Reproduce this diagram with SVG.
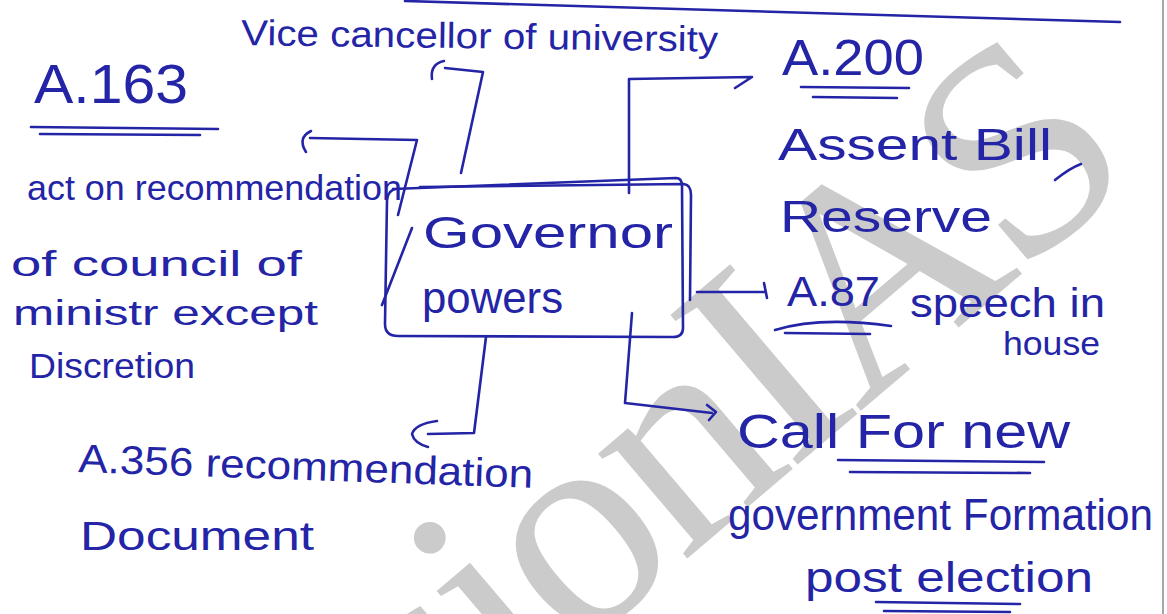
<svg xmlns="http://www.w3.org/2000/svg" width="1167" height="614" viewBox="0 0 1167 614">
  <style>
    .ink { fill: #2424a6; font-family: "Liberation Sans", "DejaVu Sans", sans-serif; }
    .ln { fill: none; stroke: #2424a6; stroke-width: 2.6; stroke-linecap: round; stroke-linejoin: round; }
    .wm { fill: #cbcbcb; font-family: "Liberation Serif", "DejaVu Serif", serif; }
  </style>
  <rect width="1167" height="614" fill="#ffffff"/>

  <!-- faint diagonal watermark behind the notes -->
  <g id="watermark">
    <text class="wm" font-size="300" letter-spacing="-9" transform="translate(272,912) rotate(-40.4)">visionIAS</text>
  </g>

  <!-- page rule along the top and the paper edge on the right -->
  <g id="page">
    <path class="ln" d="M405 1 Q760 10 1120 22"/>
    <line x1="1163" y1="0" x2="1163" y2="614" stroke="#8a8a8a" stroke-width="1.5"/>
  </g>

  <!-- central box -->
  <g id="governor">
    <path class="ln" d="M393 189 C500 185 600 181 676 178 Q682 178 682 186 L683 328 Q683 337 673 337 L398 336 Q385 336 385 324 L387 200 Q388 190 396 189"/>
    <path class="ln" d="M420 187 L684 184 Q691 185 691 195 L690 300"/>
    <path class="ln" d="M412 228 L382 305"/>
    <text class="ink" x="423" y="248" font-size="44" textLength="250" lengthAdjust="spacingAndGlyphs">Governor</text>
    <text class="ink" x="422" y="313" font-size="44" textLength="141" lengthAdjust="spacingAndGlyphs">powers</text>
  </g>

  <g id="connectors">
    <!-- to vice chancellor -->
    <path class="ln" d="M461 173 L483 72 L445 68"/>
    <path class="ln" d="M444 61 Q430 64 432 79"/>
    <!-- to A.163 -->
    <path class="ln" d="M398 215 L417 140 L310 138"/>
    <path class="ln" d="M311 131 Q297 138 306 152"/>
    <!-- to A.200 -->
    <path class="ln" d="M629 193 L629 79 L752 77 L735 88"/>
    <!-- to A.87 -->
    <path class="ln" d="M697 292 L765 292"/>
    <path class="ln" d="M764 283 L767 298"/>
    <!-- to government formation -->
    <path class="ln" d="M632 313 L625 403 L712 413"/>
    <path class="ln" d="M707 405 L716 412 L709 420"/>
    <!-- to A.356 -->
    <path class="ln" d="M486 337 L474 433 L428 434"/>
    <path class="ln" d="M437 421 Q415 424 412 434 Q414 443 428 447"/>
  </g>

  <g id="vice-chancellor">
    <text class="ink" x="241" y="45" font-size="36" textLength="477" lengthAdjust="spacingAndGlyphs" transform="rotate(0.8 241 45)">Vice cancellor of university</text>
  </g>

  <g id="a163">
    <text class="ink" x="34" y="103" font-size="55" textLength="154" lengthAdjust="spacingAndGlyphs">A.163</text>
    <path class="ln" d="M31 127 L218 129 M40 134 L200 135"/>
    <text class="ink" x="27" y="200" font-size="35" textLength="375" lengthAdjust="spacingAndGlyphs">act on recommendation</text>
    <text class="ink" x="11" y="276" font-size="35" textLength="291" lengthAdjust="spacingAndGlyphs">of council of</text>
    <text class="ink" x="13" y="325" font-size="35" textLength="305" lengthAdjust="spacingAndGlyphs">ministr except</text>
    <text class="ink" x="29" y="378" font-size="35" textLength="166" lengthAdjust="spacingAndGlyphs">Discretion</text>
  </g>

  <g id="a200">
    <text class="ink" x="782" y="75" font-size="50" textLength="142" lengthAdjust="spacingAndGlyphs">A.200</text>
    <path class="ln" d="M801 87 L909 88 M813 97 L897 98"/>
    <text class="ink" x="778" y="160" font-size="44" textLength="274" lengthAdjust="spacingAndGlyphs">Assent Bill</text>
    <path class="ln" d="M1055 180 Q1070 168 1081 164"/>
    <text class="ink" x="780" y="232" font-size="44" textLength="212" lengthAdjust="spacingAndGlyphs">Reserve</text>
  </g>

  <g id="a87">
    <text class="ink" x="787" y="306" font-size="42" textLength="93" lengthAdjust="spacingAndGlyphs">A.87</text>
    <path class="ln" d="M775 330 Q820 316 891 326 M785 333 L870 334"/>
    <text class="ink" x="910" y="317" font-size="40" textLength="195" lengthAdjust="spacingAndGlyphs">speech in</text>
    <text class="ink" x="1003" y="355" font-size="34" textLength="97" lengthAdjust="spacingAndGlyphs">house</text>
  </g>

  <g id="new-government">
    <text class="ink" x="737" y="448" font-size="48" textLength="333" lengthAdjust="spacingAndGlyphs">Call For new</text>
    <path class="ln" d="M838 460 L1044 462 M850 472 L1030 473"/>
    <text class="ink" x="728" y="530" font-size="44" textLength="425" lengthAdjust="spacingAndGlyphs">government Formation</text>
    <text class="ink" x="805" y="592" font-size="42" textLength="288" lengthAdjust="spacingAndGlyphs">post election</text>
    <path class="ln" d="M876 602 L1020 604 M884 611 L1010 612"/>
  </g>

  <g id="a356">
    <text class="ink" x="78" y="472" font-size="40" textLength="455" lengthAdjust="spacingAndGlyphs" transform="rotate(2 78 472)">A.356 recommendation</text>
    <text class="ink" x="80" y="550" font-size="40" textLength="234" lengthAdjust="spacingAndGlyphs">Document</text>
  </g>
</svg>
